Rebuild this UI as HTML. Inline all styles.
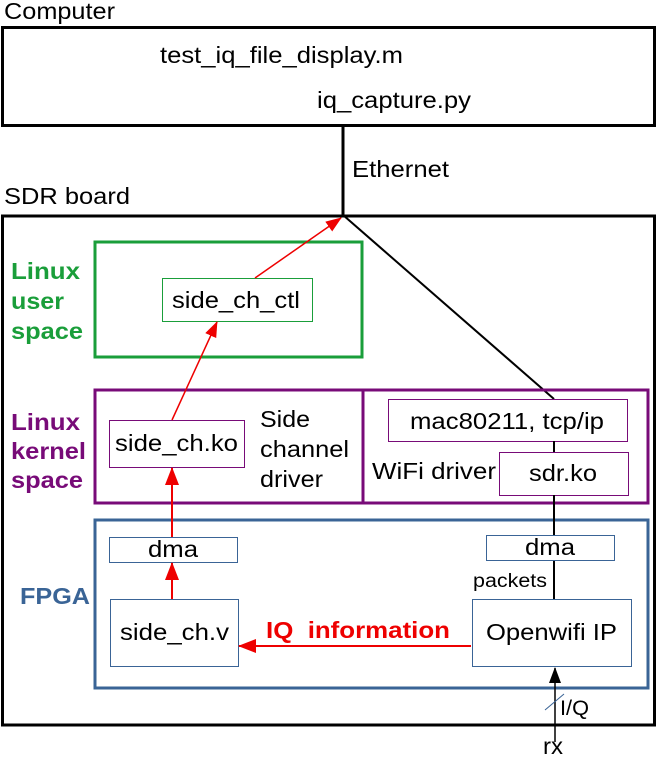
<!DOCTYPE html>
<html><head><style>
body{margin:0;background:#fff;width:657px;height:755px;overflow:hidden}
svg text{font-family:"Liberation Sans",sans-serif}
</style></head><body>
<svg width="657" height="755" xmlns="http://www.w3.org/2000/svg">
<defs>
<marker id="r" markerWidth="16" markerHeight="12" refX="15" refY="6" orient="auto" markerUnits="userSpaceOnUse"><path d="M0,0 L16,6 L0,12z" fill="#e00"/></marker>
<marker id="rb" markerWidth="18" markerHeight="14" refX="17" refY="7" orient="auto" markerUnits="userSpaceOnUse"><path d="M0,0 L18,7 L0,14z" fill="#e00"/></marker>
<marker id="k" markerWidth="16" markerHeight="12" refX="15" refY="6" orient="auto" markerUnits="userSpaceOnUse"><path d="M0,0 L16,6 L0,12z" fill="#000"/></marker>
</defs>
<g font-size="23">
<text x="4" y="19" textLength="111" lengthAdjust="spacingAndGlyphs">Computer</text>
<rect x="2.5" y="27.5" width="652" height="98" fill="none" stroke="#000" stroke-width="3"/>
<text x="160" y="63" textLength="243" lengthAdjust="spacingAndGlyphs">test_iq_file_display.m</text>
<text x="317" y="108" textLength="154" lengthAdjust="spacingAndGlyphs">iq_capture.py</text>
<line x1="343" y1="126" x2="343" y2="215" stroke="#000" stroke-width="3"/>
<text x="352" y="177" textLength="97" lengthAdjust="spacingAndGlyphs">Ethernet</text>
<text x="4" y="204" textLength="126" lengthAdjust="spacingAndGlyphs">SDR board</text>
<rect x="2.5" y="216" width="652" height="509" fill="none" stroke="#000" stroke-width="3"/>
<line x1="343" y1="215" x2="554" y2="399" stroke="#000" stroke-width="2"/>
<rect x="95" y="242" width="267" height="115" fill="none" stroke="#1a9e3a" stroke-width="3"/>
<g font-weight="bold" fill="#1a9e3a">
<text x="11" y="279" textLength="69" lengthAdjust="spacingAndGlyphs">Linux</text>
<text x="11" y="309" textLength="53" lengthAdjust="spacingAndGlyphs">user</text>
<text x="11" y="339" textLength="72" lengthAdjust="spacingAndGlyphs">space</text></g>
<rect x="162.5" y="278.5" width="150" height="43" fill="none" stroke="#1a9e3a"/>
<text x="172" y="308" textLength="128" lengthAdjust="spacingAndGlyphs">side_ch_ctl</text>
<rect x="95" y="390" width="553" height="113" fill="none" stroke="#780b78" stroke-width="3"/>
<line x1="363" y1="390" x2="363" y2="503" stroke="#780b78" stroke-width="3"/>
<g font-weight="bold" fill="#780b78">
<text x="11" y="430" textLength="69" lengthAdjust="spacingAndGlyphs">Linux</text>
<text x="11" y="459" textLength="75" lengthAdjust="spacingAndGlyphs">kernel</text>
<text x="11" y="488" textLength="72" lengthAdjust="spacingAndGlyphs">space</text></g>
<rect x="109.5" y="420.5" width="135" height="47" fill="none" stroke="#780b78"/>
<text x="115" y="451" textLength="123" lengthAdjust="spacingAndGlyphs">side_ch.ko</text>
<text x="260" y="427" textLength="50" lengthAdjust="spacingAndGlyphs">Side</text>
<text x="260" y="457" textLength="89" lengthAdjust="spacingAndGlyphs">channel</text>
<text x="260" y="487" textLength="63" lengthAdjust="spacingAndGlyphs">driver</text>
<rect x="388.5" y="399.5" width="239" height="42" fill="none" stroke="#780b78"/>
<text x="410" y="429" textLength="194" lengthAdjust="spacingAndGlyphs">mac80211, tcp/ip</text>
<text x="372" y="479" textLength="124" lengthAdjust="spacingAndGlyphs">WiFi driver</text>
<rect x="499.5" y="452.5" width="129" height="43" fill="none" stroke="#780b78"/>
<text x="529" y="481" textLength="68" lengthAdjust="spacingAndGlyphs">sdr.ko</text>
<rect x="95" y="520" width="553" height="168" fill="none" stroke="#3a6496" stroke-width="3"/>
<text x="20" y="604" font-weight="bold" fill="#3a6496" textLength="70" lengthAdjust="spacingAndGlyphs">FPGA</text>
<rect x="109.5" y="537.5" width="128" height="25" fill="none" stroke="#3a6496"/>
<text x="148" y="557" textLength="50" lengthAdjust="spacingAndGlyphs">dma</text>
<rect x="486.5" y="535.5" width="128" height="25" fill="none" stroke="#3a6496"/>
<text x="525" y="555" textLength="50" lengthAdjust="spacingAndGlyphs">dma</text>
<rect x="110.5" y="599.5" width="128" height="67" fill="none" stroke="#3a6496"/>
<text x="120" y="640" textLength="109" lengthAdjust="spacingAndGlyphs">side_ch.v</text>
<rect x="472.5" y="599.5" width="159" height="67" fill="none" stroke="#3a6496"/>
<text x="486" y="640" textLength="131" lengthAdjust="spacingAndGlyphs">Openwifi IP</text>
<text x="473" y="587" font-size="19" textLength="74" lengthAdjust="spacingAndGlyphs">packets</text>
<line x1="554" y1="441" x2="554" y2="452" stroke="#000" stroke-width="2"/>
<line x1="554" y1="495" x2="554" y2="535" stroke="#000" stroke-width="2"/>
<line x1="554" y1="561" x2="554" y2="599" stroke="#000" stroke-width="2"/>
<line x1="255" y1="278" x2="341" y2="218" stroke="#e00" stroke-width="1.5" marker-end="url(#r)"/>
<line x1="172" y1="420" x2="217" y2="322" stroke="#e00" stroke-width="1.5" marker-end="url(#r)"/>
<line x1="172" y1="537" x2="172" y2="468" stroke="#e00" stroke-width="2" marker-end="url(#rb)"/>
<line x1="172" y1="599" x2="172" y2="563" stroke="#e00" stroke-width="2" marker-end="url(#rb)"/>
<line x1="471" y1="646" x2="239" y2="646" stroke="#e00" stroke-width="2" marker-end="url(#rb)"/>
<text x="266" y="638" font-weight="bold" fill="#e00" textLength="184" lengthAdjust="spacingAndGlyphs">IQ&#160; information</text>
<line x1="555" y1="742" x2="555" y2="668" stroke="#000" stroke-width="1.5" marker-end="url(#k)"/>
<line x1="545" y1="710" x2="564" y2="694" stroke="#3a6496" stroke-width="1"/>
<text x="560" y="715" font-size="21" textLength="29" lengthAdjust="spacingAndGlyphs">I/Q</text>
<text x="543" y="754" textLength="20" lengthAdjust="spacingAndGlyphs">rx</text>
</g>
</svg>
</body></html>
